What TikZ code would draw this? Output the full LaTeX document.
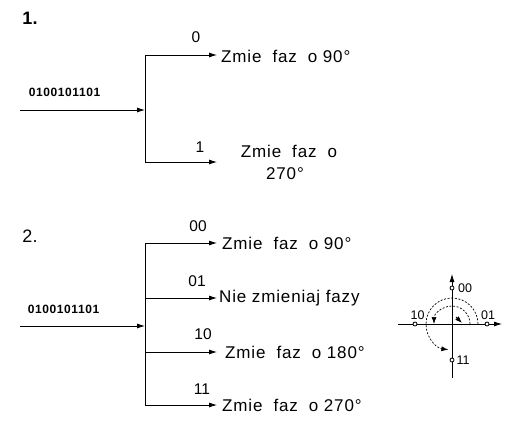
\documentclass[tikz,border=0pt]{standalone}
\usepackage{fontspec}
\setmainfont{Liberation Sans}
\newfontfamily\lsp[LetterSpace=5]{Liberation Sans}
\usetikzlibrary{arrows.meta}
\newcommand\gp{\hspace{11pt}}
\tikzset{
  wire/.style={line width=0.8pt},
  arr/.style={wire,-{Latex[length=8pt,width=5pt]}},
  txt/.style={inner sep=0pt,anchor=west,font=\lsp\fontsize{17}{20}\selectfont},
  lbl/.style={inner sep=0pt,font=\fontsize{15.5}{18}\selectfont},
  bits/.style={inner sep=0pt,font=\lsp\fontsize{12}{14}\selectfont\bfseries},
  num/.style={inner sep=0pt,font=\fontsize{18}{20}\selectfont},
  plbl/.style={inner sep=0pt,font=\fontsize{12.5}{14}\selectfont},
  dot/.style={wire,fill=white},
  dsh/.style={line width=0.7pt,dash pattern=on 2pt off 1.6pt}
}
\begin{document}
\begin{tikzpicture}[x=1pt,y=-1pt]
\useasboundingbox (0,0) rectangle (516,425);
% ---------- part 1 ----------
\node[num,font=\fontsize{18}{20}\selectfont\bfseries] (n1) at (30,18) {1.};
\node[bits] (b1) at (64.5,92) {0100101101};
\coordinate (in1) at (20,110);
\coordinate (j1) at (145,110);
\coordinate (t1) at (145,55);
\coordinate (d1) at (145,162);
\coordinate (te1) at (217,55);
\coordinate (de1) at (217,162);
\draw[arr] (in1) -- (j1);
\draw[wire] (t1) -- (d1);
\draw[arr] (t1) -- (te1);
\draw[arr] (d1) -- (de1);
\node[lbl] (l0) at (196,37.5) {0};
\node[lbl] (l1) at (200,147) {1};
\node[txt] (z90a) at (221,56) {Zmie\gp faz\gp o 90°};
\node[txt,anchor=center] (z270a) at (289,151) {Zmie\gp faz\gp o};
\node[txt,anchor=center] (z270b) at (285,174) {270°};
% ---------- part 2 ----------
\node[num] (n2) at (30,236) {2.};
\node[bits] (b2) at (63.5,309) {0100101101};
\coordinate (in2) at (20,326);
\coordinate (j2) at (145,326);
\coordinate (a2) at (145,243);
\coordinate (b2c) at (145,298);
\coordinate (c2) at (145,352);
\coordinate (d2) at (145,405);
\coordinate (ae2) at (217,243);
\coordinate (be2) at (217,298);
\coordinate (ce2) at (217,352);
\coordinate (de2) at (217,405);
\draw[arr] (in2) -- (j2);
\draw[wire] (a2) -- (d2);
\draw[arr] (a2) -- (ae2);
\draw[arr] (b2c) -- (be2);
\draw[arr] (c2) -- (ce2);
\draw[arr] (d2) -- (de2);
\node[lbl] (l00) at (198,226) {00};
\node[lbl] (l01) at (197,281) {01};
\node[lbl] (l10) at (203,334) {10};
\node[lbl] (l11) at (202,389) {11};
\node[txt] (t00) at (222,243) {Zmie\gp faz\gp o 90°};
\node[txt] (t01) at (219,298) {Nie zmieniaj fazy};
\node[txt] (t10) at (225,352) {Zmie\gp faz\gp o 180°};
\node[txt] (t11) at (222,405) {Zmie\gp faz\gp o 270°};
% ---------- phase diagram ----------
\coordinate (o) at (452,324);
\coordinate (vt) at (452,274);
\coordinate (vb) at (452,378);
\coordinate (hl) at (398,324);
\coordinate (hr) at (502,324);
\draw[wire,-{Latex[length=8pt,width=5pt]}] (vb) -- (vt);
\draw[wire,-{Latex[length=8pt,width=5pt]}] (hl) -- (hr);
\draw[dsh,-{Latex[length=7pt,width=5pt]}] (478,324) arc[start angle=0,end angle=262,radius=26pt];
\draw[dsh,-{Latex[length=7pt,width=5pt]}] (470,324) arc[start angle=0,end angle=180,radius=18pt];
\draw[wire,-{Latex[length=7pt,width=5pt]}] (456,317) -- (462,323);
\draw[dot] (452,288) circle[radius=2pt];
\draw[dot] (487,324) circle[radius=2pt];
\draw[dot] (415,324) circle[radius=2pt];
\draw[dot] (452,360) circle[radius=2pt];
\node[plbl] (p00) at (465,288) {00};
\node[plbl] (p01) at (488,315) {01};
\node[plbl] (p10) at (417.5,315) {10};
\node[plbl] (p11) at (463,360) {11};
\end{tikzpicture}
\end{document}
